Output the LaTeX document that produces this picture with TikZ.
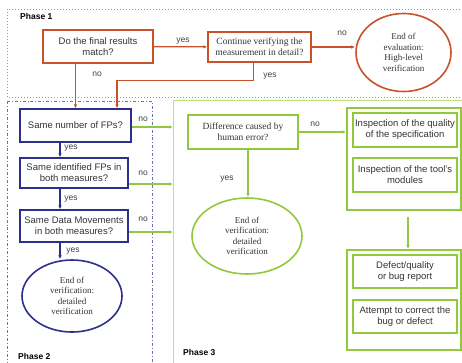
\documentclass[tikz,border=0pt]{standalone}
\usepackage{fontspec}
\setmainfont{Liberation Serif}
\setsansfont{Liberation Sans}
\usetikzlibrary{arrows.meta,shapes.geometric,calc}
\definecolor{phaseone}{RGB}{200,82,42}
\definecolor{phaseonelight}{RGB}{232,120,80}
\definecolor{phasetwo}{RGB}{46,46,140}
\definecolor{phasetwolight}{RGB}{110,110,190}
\definecolor{phasethree}{RGB}{146,200,62}
\definecolor{phasethreelight}{RGB}{190,225,130}
\tikzset{
  sanstext/.style={font=\sffamily\fontsize{9.5}{11}\selectfont, text=black!80},
  seriftext/.style={font=\rmfamily\fontsize{9.5}{11}\selectfont, text=black!80},
  orangebox/.style={draw=phaseone, line width=1.3pt, align=center, inner sep=1pt},
  bluebox/.style={draw=phasetwo, line width=1.3pt, align=center, inner sep=1pt, sanstext},
  greenbox/.style={draw=phasethree, line width=1.6pt, align=center, inner sep=1pt},
  endellipse/.style={ellipse, line width=1.6pt, align=center, inner sep=0pt, font=\rmfamily\fontsize{9}{10.5}\selectfont, text=black!80},
  orangeline/.style={draw=phaseone, line width=1.3pt},
  blueline/.style={draw=phasetwo, line width=1.3pt},
  greenline/.style={draw=phasethree, line width=1.6pt},
  tip/.style={-{Latex[length=4pt,width=3.5pt]}},
  answer/.style={font=\sffamily\fontsize{8.5}{9}\selectfont, text=black!75, inner sep=0pt},
  phaselabel/.style={font=\sffamily\bfseries\fontsize{8.5}{9}\selectfont, anchor=west, inner sep=0pt},
}
\begin{document}
\begin{tikzpicture}[x=1pt,y=-1pt]
			%%%%% START %%%%%
			\useasboundingbox (0,0) rectangle (462,362);
			\clip (0,0) rectangle (462,362);
			
			% phase frames
			\draw[phaseonelight, line width=1pt, dotted] (7,9) rectangle (480,97);
			\draw[phasetwolight, line width=0.9pt, dash dot] (7,101) rectangle (152,380);
			\draw[phasethreelight, line width=0.9pt] (173,100) rectangle (480,380);
			\node[phaselabel] (ph1) at (20,16) {Phase 1};
			\node[phaselabel] (ph2) at (18,356) {Phase 2};
			\node[phaselabel] (ph3) at (183,352) {Phase 3};
			
			% phase 1
			\node[orangebox, sanstext, minimum width=110, minimum height=33] (match) at (98,46.5) {Do the final results\\match?};
			\node[orangebox, seriftext, minimum width=103, minimum height=30] (cont) at (259.5,47) {Continue verifying the\\measurement in detail?};
			\node[endellipse, draw=phaseone, minimum width=95, minimum height=78] (hlend) at (403.5,52.5) {End of\\evaluation:\\High-level\\verification};
			
			\draw[orangeline, tip] (match) -- (cont);
			\draw[orangeline, tip] (cont.east) -- (cont.east -| hlend.west);
			
			\node[answer] (y1) at (183,41) {yes};
			\node[answer] (n1) at (97,74) {no};
			\node[answer] (n2) at (342,33) {no};
			\node[answer] (y2) at (270,76) {yes};
			
			% phase 2
			\node[bluebox, minimum width=111, minimum height=33] (b1) at (75.5,125.5) {Same number of FPs?};
			\node[bluebox, minimum width=108, minimum height=30] (b2) at (74,173) {Same identified FPs in\\both measures?};
			\node[bluebox, minimum width=108, minimum height=32] (b3) at (74,226) {Same Data Movements\\in both measures?};
			\node[endellipse, draw=phasetwo, minimum width=100, minimum height=72] (dvend) at (72,296) {End of\\verification:\\detailed\\verification};
			
			\draw[orangeline, tip] (b1.north |- match.south) -- (b1.north);
			\draw[orangeline, tip] ([xshift=-6pt]cont.south) -- ++(0,18) -| ([xshift=41.5pt]b1.north);
			\draw[blueline, tip] (b1.south -| 60,0) -- (b2.north -| 60,0);
			\draw[blueline, tip] (b2.south -| 60,0) -- (b3.north -| 60,0);
			\draw[blueline, tip] (b3.south -| 60,0) -- (dvend.north -| 60,0);
			
			\coordinate (in1) at (173,127);
			\coordinate (in2) at (173,184);
			\coordinate (in3) at (173,232);
			\draw[greenline, tip] (b1.east |- in1) -- (in1);
			\draw[greenline, tip] (b2.east |- in2) -- (in2);
			\draw[greenline, tip] (b3.east |- in3) -- (in3);
			
			\node[answer] (n3) at (143,119) {no};
			\node[answer] (y3) at (71,148) {yes};
			\node[answer] (n4) at (143,173) {no};
			\node[answer] (y4) at (71,199) {yes};
			\node[answer] (n5) at (143,219) {no};
			\node[answer] (y5) at (73,251) {yes};
			
			% phase 3
			\node[greenbox, seriftext, minimum width=110, minimum height=34] (human) at (243,132) {Difference caused by\\human error?};
			\node[endellipse, draw=phasethree, minimum width=110, minimum height=76] (hvend) at (247,236) {End of\\verification:\\detailed\\verification};
			
			\node[greenbox, minimum width=114, minimum height=102] (insp) at (404,159) {};
			\node[greenbox, sanstext, minimum width=104, minimum height=34] (quality) at (405,130) {Inspection of the quality\\of the specification};
			\node[greenbox, sanstext, minimum width=104, minimum height=34] (modules) at (405,175) {Inspection of the tool's\\modules};
			\node[greenbox, minimum width=114, minimum height=100] (report) at (404,300) {};
			\node[greenbox, sanstext, minimum width=104, minimum height=33] (defect) at (405,271.5) {Defect/quality\\or bug report};
			\node[greenbox, sanstext, minimum width=104, minimum height=33] (attempt) at (405,316.5) {Attempt to correct the\\bug or defect};
			
			\draw[greenline, tip] (human.east) -- (human.east -| insp.west);
			\draw[greenline, tip] (human.south -| 248,0) -- (hvend.north -| 248,0);
			\draw[greenline, tip, shorten <=6pt] ([xshift=4pt]insp.south) -- ([xshift=4pt]report.north);
			
			\node[answer] (n6) at (315,124) {no};
			\node[answer] (y6) at (227,179) {yes};
			%%%%% END %%%%%
\end{tikzpicture}
\end{document}
